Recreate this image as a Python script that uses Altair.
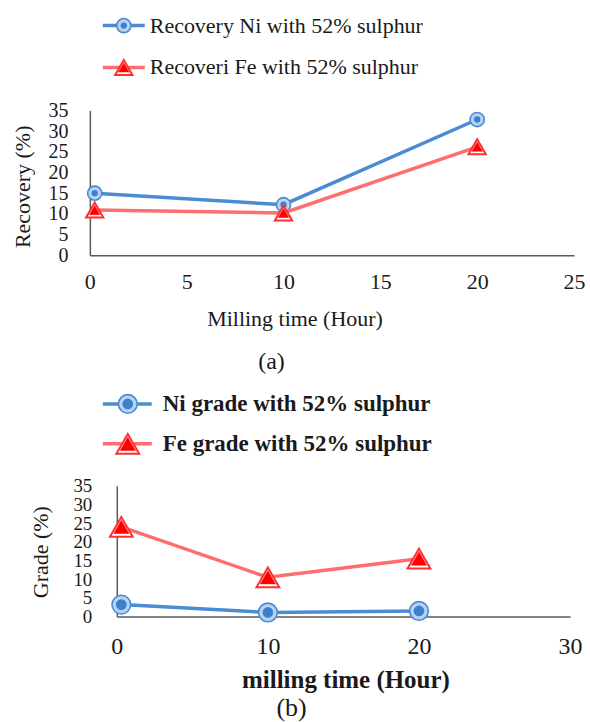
import altair as alt
import pandas as pd

# ---------------- data ----------------
time_a = [0.25, 10, 20]
ni_recovery = [15.0, 12.2, 32.8]
fe_recovery = [10.9, 10.2, 26.2]
legend_a = ["Recovery Ni with 52% sulphur", "Recoveri Fe with 52% sulphur"]
x_ticks_a = [0, 5, 10, 15, 20, 25]

time_b = [0.3, 10, 20]
ni_grade = [3.2, 1.1, 1.5]
fe_grade = [24.0, 10.5, 15.5]
legend_b = ["Ni grade with 52% sulphur", "Fe grade with 52% sulphur"]
x_ticks_b = [0, 10, 20, 30]

y_ticks = [0, 5, 10, 15, 20, 25, 30, 35]
panel_labels = ["(a)", "(b)"]
x_titles = ["Milling time  (Hour)", "milling time (Hour)"]
y_titles = ["Recovery (%)", "Grade (%)"]

SERIF = "Times New Roman, Liberation Serif, DejaVu Serif, serif"
BLUE_LINE = "#4a8bd3"
BLUE_DOT = "#3a80cf"
BLUE_RING = "#b9d3ef"
RED_LINE = "#ff6e6e"
RED_FILL = "#ff0000"
RED_STROKE = "#ff3030"
AXIS_COLOR = "#5a5a5a"


def one(v):
    return pd.DataFrame({"v": [v]})


def ni_layers(df, x, y, outer, inner):
    line = alt.Chart(df).mark_line(color=BLUE_LINE, strokeWidth=3.5).encode(x=x, y=y)
    ring = alt.Chart(df).mark_circle(size=outer, fill=BLUE_RING, stroke=BLUE_LINE,
                                     strokeWidth=1.6, opacity=1).encode(x=x, y=y)
    dot = alt.Chart(df).mark_circle(size=inner, color=BLUE_DOT, opacity=1).encode(x=x, y=y)
    return [line, ring, dot]


def fe_layers(df, x, y, outer, inner):
    line = alt.Chart(df).mark_line(color=RED_LINE, strokeWidth=3.5).encode(x=x, y=y)
    tri_o = alt.Chart(df).mark_point(shape="triangle-up", filled=True, fill="#ffffff",
                                     stroke=RED_STROKE, strokeWidth=2, size=outer,
                                     opacity=1).encode(x=x, y=y)
    tri_i = alt.Chart(df).mark_point(shape="triangle-up", filled=True, fill=RED_FILL,
                                     stroke=RED_FILL, strokeWidth=0.5, size=inner,
                                     opacity=1).encode(x=x, y=y)
    return [line, tri_o, tri_i]


def legend_layers(labels, ys, x1, x2, xm, xt, outer_c, inner_c, outer_t, inner_t,
                  fs, weight):
    out = []
    # Ni row
    yv = ys[0]
    out.append(alt.Chart(one(labels[0])).mark_rule(color=BLUE_LINE, strokeWidth=3.5).encode(
        x=alt.value(x1), x2=alt.value(x2), y=alt.value(yv)))
    out.append(alt.Chart(one(labels[0])).mark_circle(size=outer_c, fill=BLUE_RING, stroke=BLUE_LINE,
                                                     strokeWidth=1.6, opacity=1).encode(
        x=alt.value(xm), y=alt.value(yv)))
    out.append(alt.Chart(one(labels[0])).mark_circle(size=inner_c, color=BLUE_DOT, opacity=1).encode(
        x=alt.value(xm), y=alt.value(yv)))
    out.append(alt.Chart(one(labels[0])).mark_text(align="left", baseline="middle", font=SERIF,
                                                   fontSize=fs, fontWeight=weight,
                                                   color="#1a1a1a").encode(
        x=alt.value(xt), y=alt.value(yv), text="v:N"))
    # Fe row
    yv = ys[1]
    out.append(alt.Chart(one(labels[1])).mark_rule(color=RED_LINE, strokeWidth=3.5).encode(
        x=alt.value(x1), x2=alt.value(x2), y=alt.value(yv)))
    out.append(alt.Chart(one(labels[1])).mark_point(shape="triangle-up", filled=True, fill="#ffffff",
                                                    stroke=RED_STROKE, strokeWidth=2, size=outer_t,
                                                    opacity=1).encode(
        x=alt.value(xm), y=alt.value(yv)))
    out.append(alt.Chart(one(labels[1])).mark_point(shape="triangle-up", filled=True, fill=RED_FILL,
                                                    stroke=RED_FILL, strokeWidth=0.5, size=inner_t,
                                                    opacity=1).encode(
        x=alt.value(xm), y=alt.value(yv)))
    out.append(alt.Chart(one(labels[1])).mark_text(align="left", baseline="middle", font=SERIF,
                                                   fontSize=fs, fontWeight=weight,
                                                   color="#1a1a1a").encode(
        x=alt.value(xt), y=alt.value(yv), text="v:N"))
    return out


# ---------------- panel (a) ----------------
df_ni_a = pd.DataFrame({"t": time_a, "val": ni_recovery})
df_fe_a = pd.DataFrame({"t": time_a, "val": fe_recovery})

x_a = alt.X("t:Q", scale=alt.Scale(domain=[0, 25], nice=False),
            axis=alt.Axis(values=x_ticks_a, title=x_titles[0], grid=False, ticks=False,
                          tickSize=0, domainColor=AXIS_COLOR, domainWidth=1.5,
                          labelFont=SERIF, labelFontSize=22, labelColor="#1a1a1a",
                          labelPadding=16, labelFlush=False, labelOverlap=False,
                          titleFont=SERIF, titleFontSize=22, titleFontWeight="normal",
                          titleColor="#1a1a1a", titleX=205, titleY=63,
                          titleAlign="center", titleBaseline="middle"))
y_a = alt.Y("val:Q", scale=alt.Scale(domain=[0, 35], nice=False),
            axis=alt.Axis(values=y_ticks, title=y_titles[0], grid=False, ticks=False,
                          tickSize=0, domainColor=AXIS_COLOR, domainWidth=1.5,
                          labelFont=SERIF, labelFontSize=20, labelColor="#1a1a1a",
                          labelPadding=22, labelOverlap=False, labelFlush=False,
                          titleFont=SERIF, titleFontSize=22, titleFontWeight="normal",
                          titleColor="#1a1a1a", titleX=-67, titleY=76,
                          titleAlign="center", titleBaseline="middle", titleAngle=270))

layers_a = []
layers_a += ni_layers(df_ni_a, x_a, y_a, 200, 40)
layers_a += fe_layers(df_fe_a, x_a, y_a, 300, 110)
layers_a += legend_layers(legend_a, [-85, -43], 13, 55, 34, 60, 200, 40, 300, 110, 22, "normal")
layers_a.append(alt.Chart(one(panel_labels[0])).mark_text(
    align="center", baseline="middle", font=SERIF, fontSize=24, color="#1a1a1a").encode(
    x=alt.value(182), y=alt.value(252), text="v:N"))

panel_a = alt.layer(*layers_a).properties(width=485, height=145)

# ---------------- panel (b) ----------------
df_ni_b = pd.DataFrame({"t": time_b, "val": ni_grade})
df_fe_b = pd.DataFrame({"t": time_b, "val": fe_grade})

x_b = alt.X("t:Q", scale=alt.Scale(domain=[0, 30], nice=False, range=[27, 481]),
            axis=alt.Axis(values=x_ticks_b, title=x_titles[1], grid=False, ticks=False,
                          tickSize=0, domainColor=AXIS_COLOR, domainWidth=1.5,
                          labelFont=SERIF, labelFontSize=24, labelColor="#1a1a1a",
                          labelPadding=18, labelFlush=False, labelOverlap=False,
                          titleFont=SERIF, titleFontSize=25, titleFontWeight="bold",
                          titleColor="#1a1a1a", titleX=256, titleY=63,
                          titleAlign="center", titleBaseline="middle"))
y_b = alt.Y("val:Q", scale=alt.Scale(domain=[0, 35], nice=False),
            axis=alt.Axis(values=y_ticks, title=y_titles[1], grid=False, ticks=False,
                          tickSize=0, domainColor=AXIS_COLOR, domainWidth=1.5, offset=-27,
                          labelFont=SERIF, labelFontSize=19, labelColor="#1a1a1a",
                          labelPadding=25, labelOverlap=False, labelFlush=False,
                          titleFont=SERIF, titleFontSize=22, titleFontWeight="normal",
                          titleColor="#1a1a1a", titleX=-76, titleY=66,
                          titleAlign="center", titleBaseline="middle", titleAngle=270))

layers_b = []
layers_b += ni_layers(df_ni_b, x_b, y_b, 350, 115)
layers_b += fe_layers(df_fe_b, x_b, y_b, 520, 230)
layers_b += legend_layers(legend_b, [-82, -42], 13, 62, 38, 73, 350, 115, 520, 230, 23, "bold")
layers_b.append(alt.Chart(one(panel_labels[1])).mark_text(
    align="center", baseline="middle", font=SERIF, fontSize=26, color="#1a1a1a").encode(
    x=alt.value(202), y=alt.value(223), text="v:N"))

panel_b = alt.layer(*layers_b).properties(width=481, height=131)

chart = alt.vconcat(panel_a, panel_b, spacing=17).properties(
    padding={"left": 12, "top": 14, "right": 5, "bottom": 2},
    background="white",
).configure_view(stroke=None)

chart.save("out.html", embed_options={"renderer": "svg", "actions": False})
